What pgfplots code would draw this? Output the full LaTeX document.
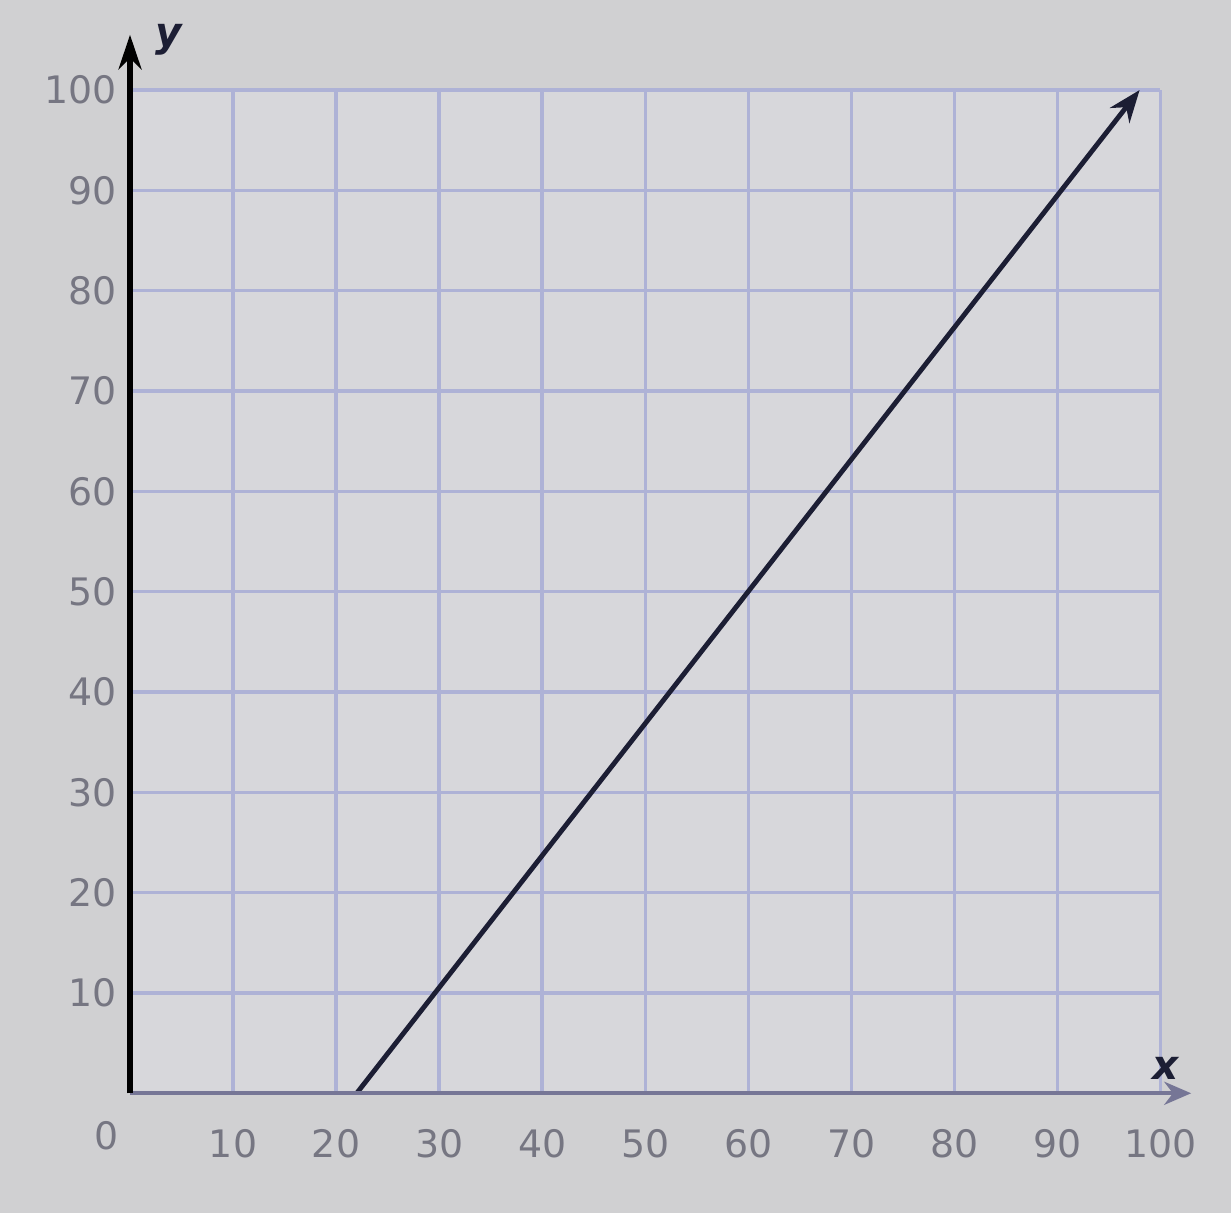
\documentclass[border=0pt]{standalone}
\usepackage{pgfplots}
\pgfplotsset{compat=1.18}
\usepackage{fontspec}
\setmainfont{DejaVu Sans}
\usetikzlibrary{backgrounds,arrows.meta}
\definecolor{bgout}{RGB}{208,208,210}
\definecolor{bgin}{RGB}{215,215,219}
\definecolor{gridc}{RGB}{174,178,214}
\definecolor{labc}{RGB}{118,118,130}
\definecolor{xaxc}{RGB}{118,118,150}
\definecolor{linec}{RGB}{28,30,52}
\begin{document}
\begin{tikzpicture}
\begin{axis}[
  scale only axis,
  width=13.39cm, height=13.04cm,
  xmin=0, xmax=100, ymin=0, ymax=100,
  xtick={10,20,...,100}, ytick={10,20,...,100},
  grid=major,
  major grid style={gridc, line width=1.2pt},
  axis line style={draw=none},
  tick style={draw=none},
  clip=false,
  /pgf/number format/assume math mode=true,
  ticklabel style={font=\fontsize{14}{16}\selectfont, text=labc},
  xticklabel style={yshift=-0.35cm},
  yticklabel style={xshift=-0.05cm},
]
\addplot[linec, line width=1.8pt, -{Stealth[length=0.42cm, width=0.32cm]}] coordinates {(22,0) (98,100)};
\draw[xaxc, line width=1.5pt, -{Stealth[length=0.35cm,width=0.3cm]}] (axis cs:0,0) -- (axis cs:103,0);
\draw[black, line width=1.9pt, -{Stealth[length=0.45cm,width=0.3cm]}] (axis cs:0,0) -- (axis cs:0,105.5);
\node[font=\fontsize{15}{17}\selectfont\bfseries\itshape, text=linec, anchor=south west] at (axis cs:1.5,102.5) {y};
\node[font=\fontsize{15}{17}\selectfont\bfseries\itshape, text=linec] at (axis cs:100.5,2.5) {x};
\node[font=\fontsize{14}{16}\selectfont, text=labc] at (axis cs:-2.3,-4.2) {0};
\end{axis}
\begin{scope}[on background layer]
\fill[bgout] ([xshift=-1.69cm,yshift=-1.56cm]current axis.south west) rectangle ([xshift=0.92cm,yshift=1.17cm]current axis.north east);
\fill[bgin] (current axis.south west) rectangle (current axis.north east);
\end{scope}
\end{tikzpicture}
\end{document}
